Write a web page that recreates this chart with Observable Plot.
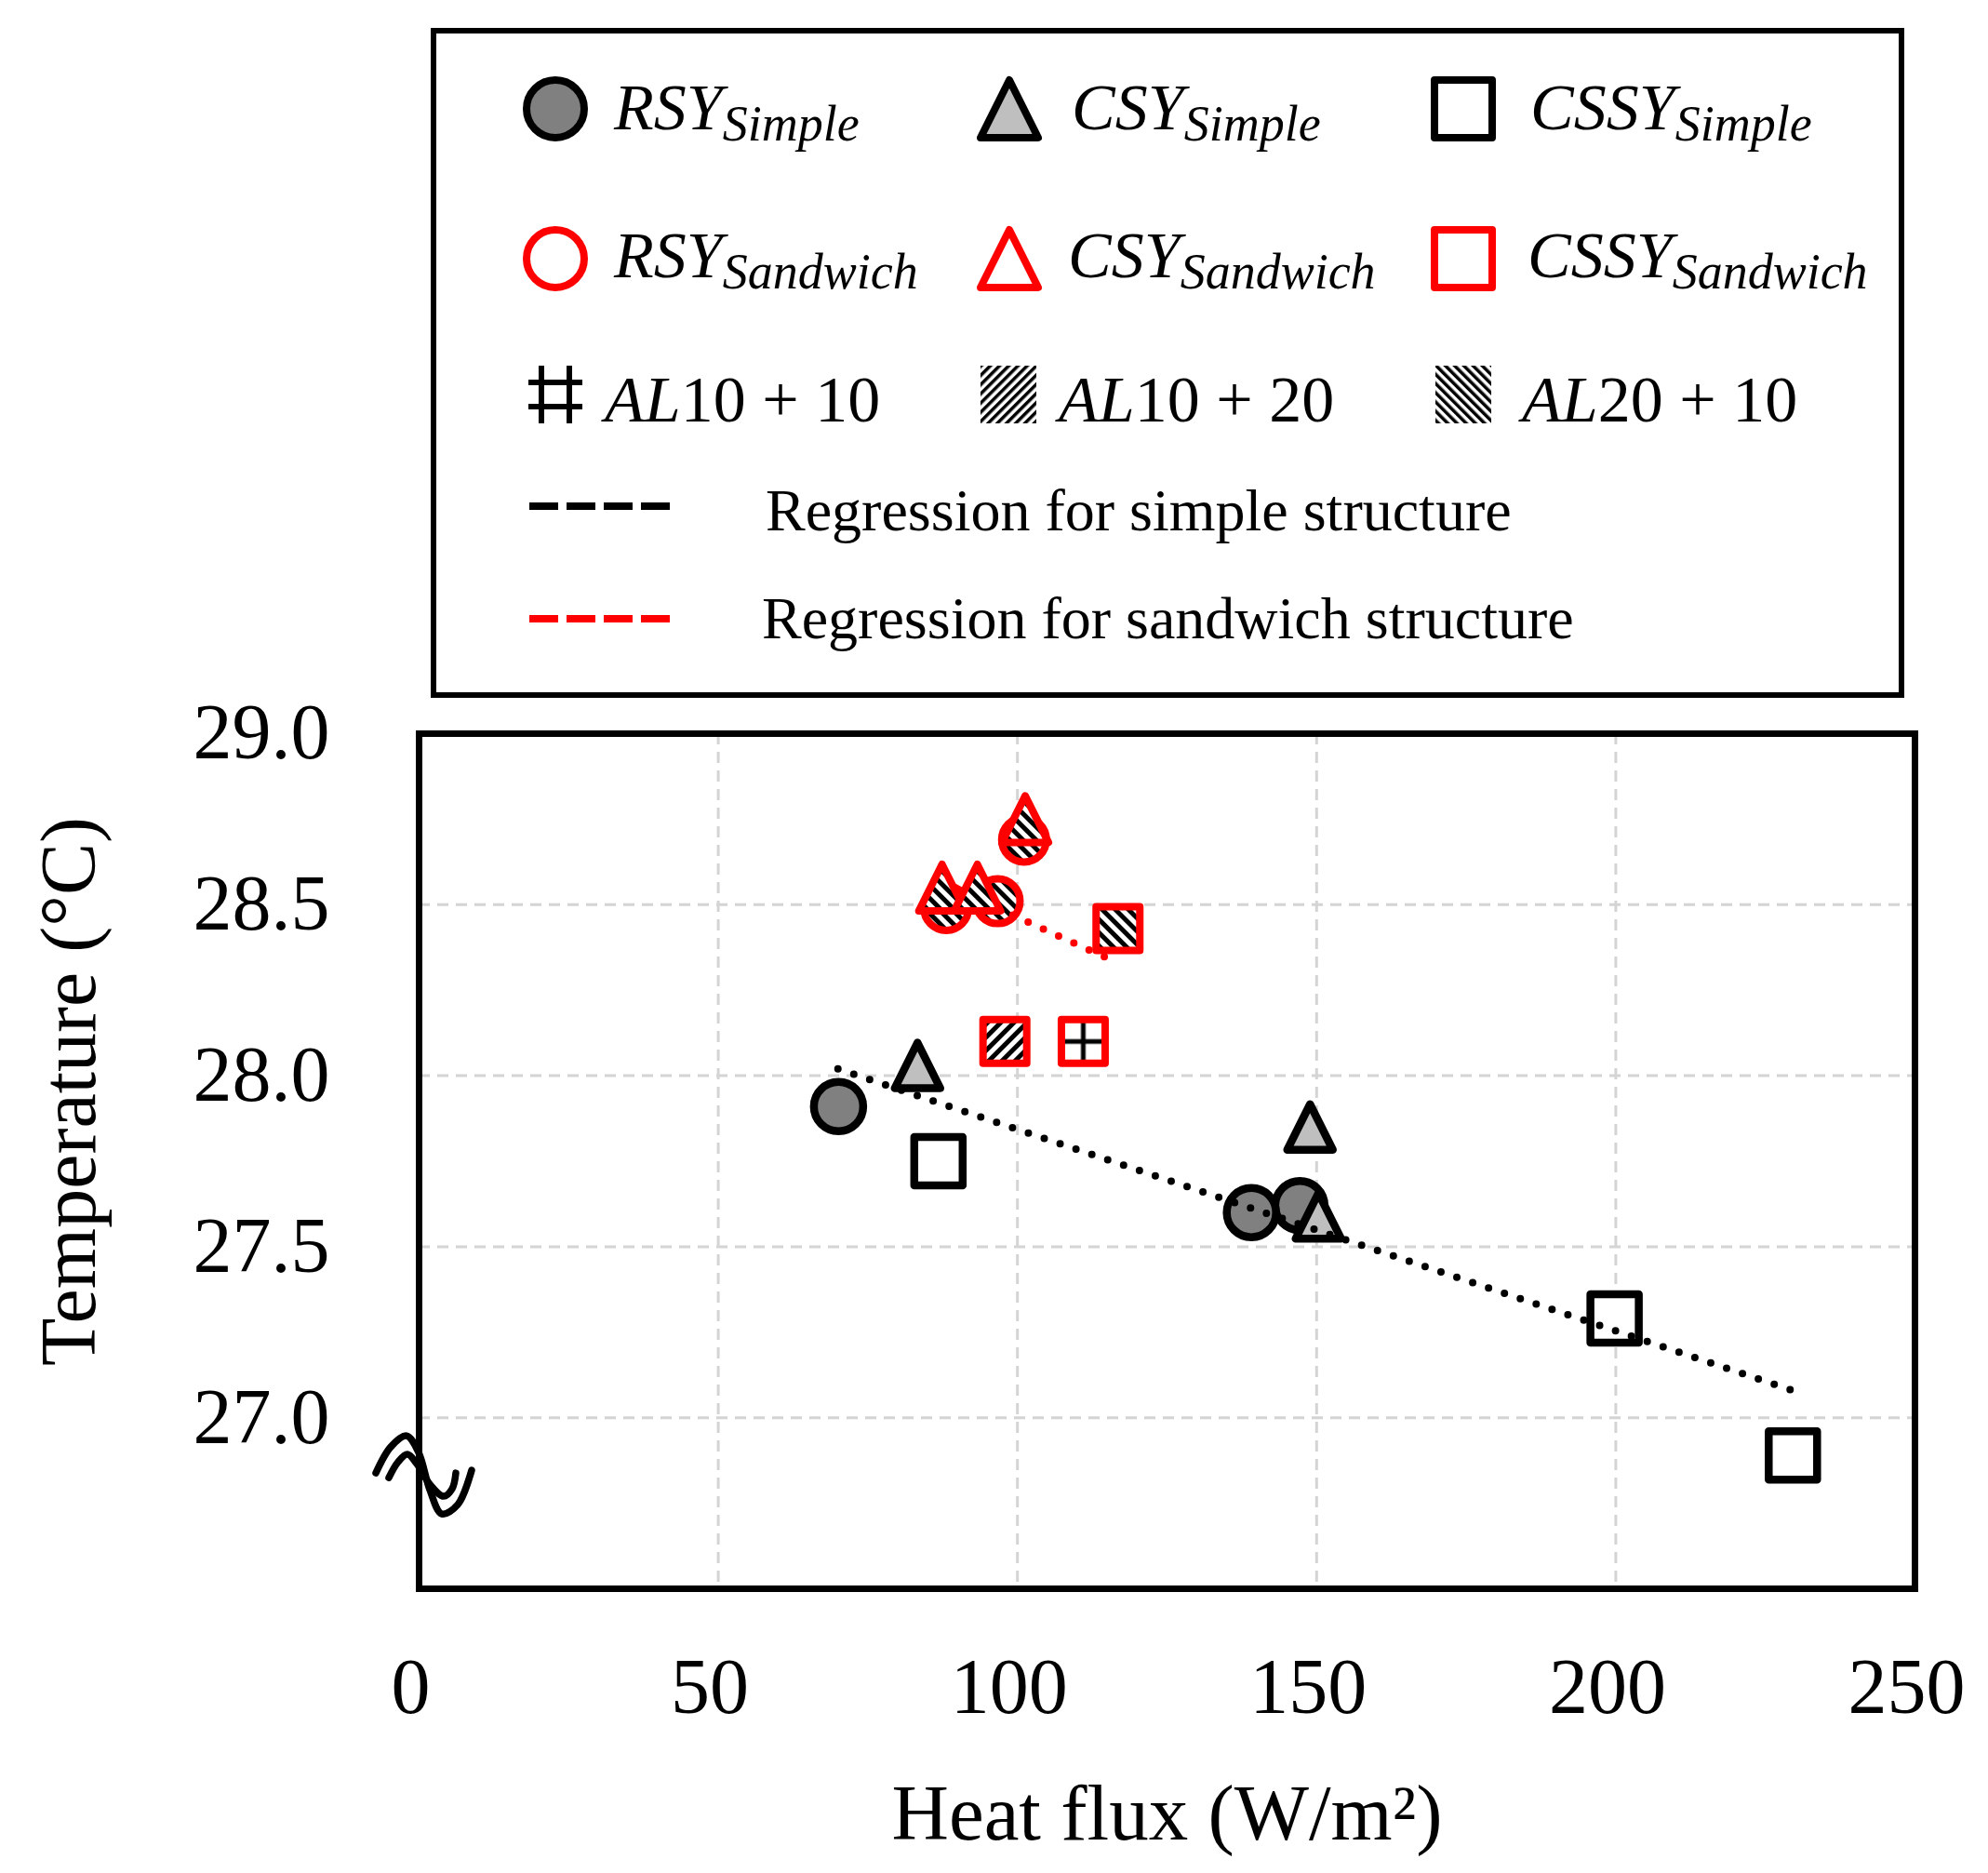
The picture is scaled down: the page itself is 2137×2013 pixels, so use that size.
<!DOCTYPE html>
<html>
<head>
<meta charset="utf-8">
<script src="https://cdn.jsdelivr.net/npm/d3@7"></script>
<script src="https://cdn.jsdelivr.net/npm/@observablehq/plot@0.6"></script>
<style>
html, body { margin: 0; padding: 0; background: #fff; }
#wrap { width: 2137px; height: 2013px; overflow: hidden; font-family: "Liberation Serif", "Times New Roman", serif; }
#chart svg { display: block; }
</style>
</head>
<body>
<div id="wrap">
  <div id="chart"></div>
</div>
<script>
// ---------------- DATA ----------------
// Simple structure (black outline)
const rsySimpleX = [70.1, 147.2, 139.1];
const rsySimpleY = [27.91, 27.62, 27.60];
const csySimpleX = [83.3, 148.9, 150.3];
const csySimpleY = [28.03, 27.85, 27.59];
const cssySimpleX = [86.8, 199.8, 229.6];
const cssySimpleY = [27.75, 27.29, 26.89];

// Sandwich structure (red outline, hatched by AL layer)
const rsySandX = [88.1, 96.7, 101.1];
const rsySandY = [28.49, 28.51, 28.69];
const rsySandAL = ["AL20+10", "AL20+10", "AL20+10"];
const csySandX = [87.4, 93.3, 101.3];
const csySandY = [28.55, 28.55, 28.75];
const csySandAL = ["AL20+10", "AL20+10", "AL20+10"];
const cssySandX = [97.9, 111.0, 116.8];
const cssySandY = [28.10, 28.10, 28.43];
const cssySandAL = ["AL10+20", "AL10+10", "AL20+10"];

// Regression lines
const regSimpleX = [70.0, 229.5];
const regSimpleY = [28.02, 27.08];
const regSandX = [96.7, 116.7];
const regSandY = [28.49, 28.33];

// Axes
const xTicks = [0, 50, 100, 150, 200, 250];
const yTicks = [27.0, 27.5, 28.0, 28.5, 29.0];
const xDomain = [0, 250];
const yDomain = [26.5, 29.0];
const xLabel = "Heat flux (W/m²)";
const yLabel = "Temperature (°C)";

// Legend
const legendSeries = ["RSY", "CSY", "CSSY"];
const legendSubs = ["Simple", "Sandwich"];
const legendAL = ["AL10 + 10", "AL10 + 20", "AL20 + 10"];
const legendReg = ["Regression for simple structure", "Regression for sandwich structure"];

// ---------------- STYLE ----------------
const FONT = "'Liberation Serif', 'Times New Roman', serif";
const RED = "#ff0000";
const patternKey = {"AL10+10": "grid", "AL10+20": "fwd", "AL20+10": "back"};

function addPatterns(defs, prefix, period, gridStep) {
  const stripes = (name, angle) => {
    const p = defs.append("pattern").attr("id", prefix + name).attr("patternUnits", "userSpaceOnUse")
      .attr("width", period).attr("height", period).attr("patternTransform", `rotate(${angle})`);
    p.append("rect").attr("width", period).attr("height", period).attr("fill", "white");
    p.append("rect").attr("width", period / 2).attr("height", period).attr("fill", "black");
  };
  stripes("fwd", 45);
  stripes("back", -45);
  const g = defs.append("pattern").attr("id", prefix + "grid").attr("patternUnits", "userSpaceOnUse")
    .attr("x", -gridStep / 2).attr("y", -gridStep / 2).attr("width", gridStep).attr("height", gridStep);
  g.append("rect").attr("width", gridStep).attr("height", gridStep).attr("fill", "white");
  g.append("rect").attr("x", gridStep / 2 - 2.5).attr("width", 5).attr("height", gridStep).attr("fill", "black");
  g.append("rect").attr("y", gridStep / 2 - 2.5).attr("height", 5).attr("width", gridStep).attr("fill", "black");
}

// custom symbols centred on their bounding box
const triSym = {draw(ctx, size) { const r = Math.sqrt(size / Math.PI); ctx.moveTo(0, -r); ctx.lineTo(r, r); ctx.lineTo(-r, r); ctx.closePath(); }};
const sqSym = {draw(ctx, size) { const r = Math.sqrt(size / Math.PI); ctx.moveTo(-r, -r); ctx.lineTo(r, -r); ctx.lineTo(r, r); ctx.lineTo(-r, r); ctx.closePath(); }};

// ---------------- CHART ----------------
const rows = (xs, ys, extra) => xs.map((x, i) => ({x, y: ys[i], al: extra ? extra[i] : null}));
const sandDots = (xs, ys, als, symbol, r) => {
  const data = rows(xs, ys, als);
  return Object.keys(patternKey).map(k => Plot.dot(data.filter(d => d.al === k), {
    x: "x", y: "y", symbol, r, fill: `url(#pt-${patternKey[k]})`, stroke: RED, strokeWidth: 8, strokeLinejoin: "round"
  }));
};

const chart = Plot.plot({
  width: 2137,
  height: 2013,
  marginLeft: 450,
  marginRight: 79,
  marginTop: 788,
  marginBottom: 306,
  style: {fontFamily: FONT, color: "black", background: "white"},
  x: {domain: xDomain},
  y: {domain: yDomain},
  marks: [
    Plot.gridX({ticks: xTicks.slice(1, -1), stroke: "#d4d4d4", strokeOpacity: 1, strokeWidth: 3, strokeDasharray: "12 8"}),
    Plot.gridY({ticks: yTicks.slice(0, -1), stroke: "#d4d4d4", strokeOpacity: 1, strokeWidth: 3, strokeDasharray: "12 8"}),
    Plot.axisX({ticks: xTicks, tickSize: 0, tickPadding: 74, fontSize: 84, dx: -9, label: null, fill: "black"}),
    Plot.axisY({ticks: yTicks, tickSize: 0, tickPadding: 96, fontSize: 84, label: null, fill: "black", tickFormat: d => d.toFixed(1)}),
    // simple structure
    Plot.dot(rows(rsySimpleX, rsySimpleY), {x: "x", y: "y", symbol: "circle", r: 26.5, fill: "#808080", stroke: "black", strokeWidth: 8.5}),
    Plot.dot(rows(csySimpleX, csySimpleY), {x: "x", y: "y", symbol: triSym, r: 24.5, fill: "#bfbfbf", stroke: "black", strokeWidth: 8.5, strokeLinejoin: "round"}),
    Plot.dot(rows(cssySimpleX, cssySimpleY), {x: "x", y: "y", symbol: sqSym, r: 26, fill: "white", stroke: "black", strokeWidth: 8.5, strokeLinejoin: "round"}),
    // sandwich structure
    ...sandDots(rsySandX, rsySandY, rsySandAL, "circle", 24),
    ...sandDots(csySandX, csySandY, csySandAL, triSym, 25),
    ...sandDots(cssySandX, cssySandY, cssySandAL, sqSym, 23.5),
    // regressions
    Plot.line(rows(regSimpleX, regSimpleY), {x: "x", y: "y", stroke: "black", strokeWidth: 8, strokeDasharray: "0 18", strokeLinecap: "round"}),
    Plot.line(rows(regSandX, regSandY), {x: "x", y: "y", stroke: RED, strokeWidth: 8, strokeDasharray: "0 18", strokeLinecap: "round"}),
    // titles
    Plot.text([xLabel], {text: d => d, frameAnchor: "bottom", dy: 242, textAnchor: "middle", lineAnchor: "middle", fontSize: 85, fill: "black"}),
    Plot.text([yLabel], {text: d => d, frameAnchor: "left", dx: -375, dy: -75, rotate: -90, textAnchor: "middle", lineAnchor: "middle", fontSize: 84, fill: "black"}),
    Plot.frame({stroke: "black", strokeWidth: 7})
  ]
});
const svg = d3.select(chart);
const defs = svg.insert("defs", ":first-child");
addPatterns(defs, "pt-", 10, 40);
addPatterns(defs, "lg-", 7, 40);

// axis-break glyph on the y axis
const bx = chart.scale("x").apply(0) + 6;
const by = chart.scale("y").apply(26.837);
const waveLine = d3.line().curve(d3.curveCatmullRom);
const outer = [[-52, 0], [-36, -28], [-19, -40], [-6, -22], [6, 18], [19, 44], [36, 34], [51, -3]];
const inner = [[-38, 5], [-28, -12], [-18, -20], [-8, -10], [6, 12], [21, 25], [30, 17], [34, 0]];
const bg = svg.append("g").attr("transform", `translate(${bx},${by})`)
  .attr("fill", "none").attr("stroke", "black").attr("stroke-width", 7.5).attr("stroke-linecap", "round");
bg.append("path").attr("d", waveLine(outer));
bg.append("path").attr("d", waveLine(inner));

// ---------------- LEGEND (inside the same svg, above the frame) ----------------
const L = svg.append("g").attr("class", "legend").attr("text-anchor", "start").style("font-family", FONT);
L.append("rect").attr("x", 466).attr("y", 33).attr("width", 1578).attr("height", 714)
  .attr("fill", "white").attr("stroke", "black").attr("stroke-width", 6);

const colMarkX = [597, 1085, 1573];
const rowMarkY = [117, 278];
const rowTextX = [[660, 1152, 1645], [660, 1148, 1642]];
const rowBase = [139, 298];
const lgSyms = [d3.symbolCircle, triSym, sqSym];
legendSubs.forEach((sub, ri) => {
  legendSeries.forEach((ser, ci) => {
    const r = 31;
    const path = d3.symbol().type(lgSyms[ci]).size(Math.PI * r * r)();
    const fill = ri === 0 ? (ci === 0 ? "#808080" : ci === 1 ? "#bfbfbf" : "white") : "white";
    L.append("path").attr("d", path)
      .attr("transform", `translate(${colMarkX[ci]},${rowMarkY[ri]})`)
      .attr("fill", fill).attr("stroke", ri === 0 ? "black" : RED)
      .attr("stroke-width", 8).attr("stroke-linejoin", "round");
    const t = L.append("text").attr("x", rowTextX[ri][ci]).attr("y", rowBase[ri])
      .attr("text-anchor", "start").attr("font-style", "italic").attr("fill", "black");
    t.append("tspan").attr("font-size", 70).text(ser);
    t.append("tspan").attr("font-size", 54).attr("dy", 12).text(sub);
  });
});

// AL hatch row
const alIconX = [597, 1084, 1573];
const alTextX = [650, 1138, 1636];
legendAL.forEach((lab, ci) => {
  const cx = alIconX[ci], cy = 424;
  const key = patternKey[lab.replace(/\s/g, "")];
  if (key === "grid") {
    const gg = L.append("g").attr("stroke", "black").attr("stroke-width", 6);
    [-15, 15].forEach(o => {
      gg.append("line").attr("x1", cx + o).attr("x2", cx + o).attr("y1", cy - 31).attr("y2", cy + 31);
    });
    [-13, 13].forEach(o => {
      gg.append("line").attr("y1", cy + o).attr("y2", cy + o).attr("x1", cx - 29).attr("x2", cx + 29);
    });
  } else {
    L.append("rect").attr("x", cx - 30).attr("y", cy - 31).attr("width", 60).attr("height", 62)
      .attr("fill", `url(#lg-${key})`);
  }
  const t = L.append("text").attr("x", alTextX[ci]).attr("y", 453).attr("text-anchor", "start")
    .attr("font-size", 70).attr("fill", "black");
  t.append("tspan").attr("font-style", "italic").text(lab.slice(0, 2));
  t.append("tspan").text(lab.slice(2));
});

// regression rows
const regLineY = [544, 665];
const regTextX = [823, 819];
const regTextY = [570, 686];
legendReg.forEach((lab, i) => {
  L.append("line").attr("x1", 569).attr("x2", 720).attr("y1", regLineY[i]).attr("y2", regLineY[i])
    .attr("stroke", i === 0 ? "black" : RED).attr("stroke-width", 8).attr("stroke-dasharray", "31 9");
  L.append("text").attr("x", regTextX[i]).attr("y", regTextY[i]).attr("text-anchor", "start")
    .attr("font-size", 64).attr("fill", "black").text(lab);
});

document.getElementById("chart").appendChild(chart);
</script>
</body>
</html>
